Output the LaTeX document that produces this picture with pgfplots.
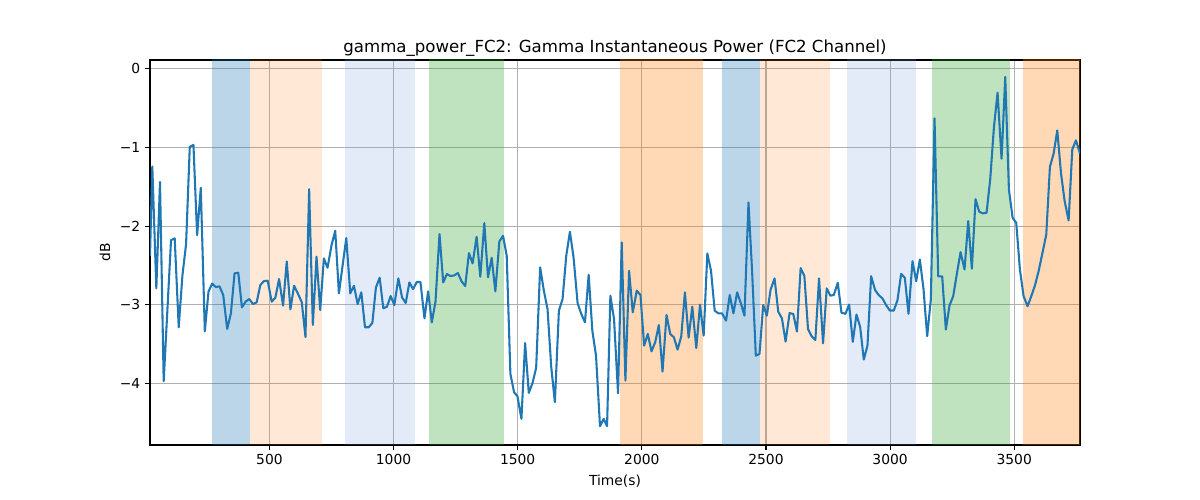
\documentclass[border=0pt]{standalone}
\usepackage{fontspec}
\setmainfont{DejaVu Sans}
\usepackage{pgfplots}
\pgfplotsset{compat=1.18}
\definecolor{tabblue}{RGB}{31,119,180}
\definecolor{taborange}{RGB}{255,127,14}
\definecolor{tabgreen}{RGB}{44,160,44}
\definecolor{lsblue}{RGB}{120,155,220}
\begin{document}
\begin{tikzpicture}
\path (0,0) rectangle (12in,5in);
\begin{axis}[
  at={(1.5in,0.55in)}, anchor=south west,
  scale only axis, width=9.3in, height=3.85in,
  xmin=19, xmax=3765, ymin=-4.78, ymax=0.11,
  xtick={500,1000,1500,2000,2500,3000,3500},
  xticklabels={500,1000,1500,2000,2500,3000,3500},
  ytick={-4,-3,-2,-1,0},
  yticklabels={−4,−3,−2,−1,0},
  tick pos=left, tick align=outside,
  major tick length=3.5pt,
  every tick/.style={black, line width=0.8pt},
  tick label style={font=\fontsize{10}{12}\selectfont},
  grid=major,
  major grid style={color=black!31, line width=0.8pt},
  axis line style={line width=0.8pt},
  title={gamma\_power\_FC2: Gamma Instantaneous Power (FC2 Channel)},
  title style={font=\fontsize{12}{14}\selectfont, yshift=-7pt},
  xlabel={Time(s)}, ylabel={dB},
  label style={font=\fontsize{10}{12}\selectfont},
]
\addplot[forget plot, draw=none, fill=tabblue, fill opacity=0.3] coordinates {(267.5,-10) (422,-10) (422,10) (267.5,10)} -- cycle;
\addplot[forget plot, draw=none, fill=taborange, fill opacity=0.17] coordinates {(422,-10) (712,-10) (712,10) (422,10)} -- cycle;
\addplot[forget plot, draw=none, fill=lsblue, fill opacity=0.2] coordinates {(806,-10) (1087,-10) (1087,10) (806,10)} -- cycle;
\addplot[forget plot, draw=none, fill=tabgreen, fill opacity=0.3] coordinates {(1141,-10) (1446,-10) (1446,10) (1141,10)} -- cycle;
\addplot[forget plot, draw=none, fill=taborange, fill opacity=0.3] coordinates {(1911,-10) (2248,-10) (2248,10) (1911,10)} -- cycle;
\addplot[forget plot, draw=none, fill=tabblue, fill opacity=0.3] coordinates {(2322,-10) (2478,-10) (2478,10) (2322,10)} -- cycle;
\addplot[forget plot, draw=none, fill=taborange, fill opacity=0.17] coordinates {(2478,-10) (2757,-10) (2757,10) (2478,10)} -- cycle;
\addplot[forget plot, draw=none, fill=lsblue, fill opacity=0.2] coordinates {(2826,-10) (3106,-10) (3106,10) (2826,10)} -- cycle;
\addplot[forget plot, draw=none, fill=tabgreen, fill opacity=0.3] coordinates {(3168,-10) (3484,-10) (3484,10) (3168,10)} -- cycle;
\addplot[forget plot, draw=none, fill=taborange, fill opacity=0.3] coordinates {(3535,-10) (3800,-10) (3800,10) (3535,10)} -- cycle;
\addplot[color=tabblue, line width=1.5pt, line join=round] table {
x y
19 -2.38
28.3 -1.243
44.5 -2.79
59.3 -1.438
74.1 -3.97
103.7 -2.178
118.5 -2.156
134.7 -3.285
149.5 -2.63
164.3 -2.228
179.2 -0.994
194 -0.968
208.8 -2.114
223.6 -1.514
239.8 -3.336
254.6 -2.833
269.4 -2.73
284.2 -2.774
299 -2.765
313.9 -2.875
330 -3.306
344.8 -3.108
359.6 -2.6
374.5 -2.592
389.3 -3.032
404.1 -2.96
418.9 -2.926
433.7 -2.99
448.6 -2.968
463.4 -2.748
478.2 -2.698
493 -2.693
509.2 -2.96
524 -2.909
538.8 -2.672
555 -3.01
569.8 -2.448
584.6 -3.057
599.4 -2.757
615.6 -2.863
630.4 -2.968
645.2 -3.408
660 -1.531
674.9 -3.256
689.7 -2.389
704.5 -3.066
719.3 -2.41
734.1 -2.529
750.3 -2.241
765.1 -2.059
779.9 -2.854
794.7 -2.503
809.6 -2.152
825.7 -2.854
840.5 -2.757
855.3 -2.99
870.2 -2.841
885 -3.285
899.8 -3.285
914.6 -3.23
929 -2.78
944 -2.655
958.8 -3.044
973.6 -3.023
988.4 -2.888
1003.2 -3.002
1019.4 -2.664
1034.2 -2.905
1049 -2.977
1063.8 -2.715
1078.7 -2.8
1093.5 -2.71
1108.3 -2.71
1124.5 -3.171
1139.3 -2.829
1154.1 -3.222
1168.9 -2.96
1185.1 -2.101
1200 -2.715
1214.7 -2.609
1229.5 -2.634
1244.3 -2.626
1259.2 -2.596
1274 -2.702
1288.8 -2.761
1303.6 -2.343
1318.4 -2.474
1334.6 -2.135
1349.4 -2.643
1365.6 -1.962
1380.4 -2.651
1395.2 -2.402
1410 -2.829
1426.2 -2.194
1441 -2.123
1455.8 -2.376
1470.6 -3.877
1485.5 -4.11
1499 -4.16
1515.1 -4.448
1529.9 -3.484
1544.7 -4.118
1559.5 -3.996
1574.4 -3.801
1590.5 -2.524
1605.4 -2.82
1620.2 -3.053
1635 -3.784
1649.8 -4.237
1666 -3.074
1680.8 -2.926
1695.6 -2.376
1710.4 -2.072
1725.2 -2.402
1741.4 -2.981
1756.2 -3.116
1771 -3.222
1785.9 -2.617
1800.7 -3.328
1815.5 -3.645
1831.6 -4.541
1846.4 -4.448
1860 -4.541
1873.3 -2.884
1888.1 -3.18
1904.2 -4.123
1919 -2.207
1933.9 -3.962
1948.7 -2.567
1963.5 -3.095
1979.7 -2.82
1994.5 -2.875
2009.3 -3.518
2024.1 -3.37
2039 -3.59
2053.8 -3.476
2068.6 -3.256
2083.4 -3.848
2099.5 -3.129
2114.4 -3.37
2129.2 -3.412
2144 -3.569
2158.8 -3.4
2173.6 -2.841
2188.5 -3.416
2203.3 -3.023
2219.4 -3.548
2234.3 -2.998
2249.1 -3.391
2263.9 -2.347
2278.7 -2.567
2293.5 -3.074
2308.3 -3.108
2323.2 -3.108
2339.3 -3.201
2354.1 -2.875
2369 -3.108
2383.8 -2.841
2398.6 -2.977
2413.4 -3.137
2429.6 -1.7
2444.4 -2.588
2459.2 -3.645
2474 -3.624
2488.9 -3.002
2503.7 -3.137
2518.5 -2.808
2534.7 -2.664
2549.5 -3.087
2564.3 -3.171
2579.1 -3.467
2595.3 -3.104
2610.1 -3.116
2624.9 -3.34
2639.7 -2.533
2654.6 -2.63
2669.4 -3.307
2684.2 -3.4
2699 -3.446
2713.8 -2.664
2730 -3.488
2744.8 -2.791
2759.6 -2.884
2773.2 -2.875
2789.3 -2.72
2804.1 -3.10
2820.2 -3.114
2835 -2.996
2849.8 -3.47
2864.6 -3.123
2879.4 -3.28
2894.1 -3.695
2908.9 -3.517
2923.7 -2.636
2939.8 -2.814
2954.6 -2.877
2969.4 -2.919
2984.2 -3.004
2998.9 -3.072
3015.1 -3.072
3029.8 -2.94
3044.6 -2.606
3059.4 -2.657
3074.2 -3.114
3090.3 -2.445
3105.1 -2.7
3119.9 -2.424
3134.6 -2.797
3149.4 -3.398
3164.2 -2.932
3179 -0.631
3193.8 -2.636
3209.9 -2.64
3224.6 -3.314
3239.4 -3.008
3254.2 -2.89
3269 -2.606
3283.8 -2.33
3299.9 -2.551
3314.7 -1.936
3329.4 -2.542
3344.2 -1.657
3359 -1.818
3373.8 -1.839
3388.6 -1.83
3403.3 -1.407
3418.1 -0.75
3432.9 -0.305
3449 -1.144
3463.8 -0.106
3478.6 -1.534
3493.4 -1.894
3508.1 -1.958
3522.9 -2.551
3537.7 -2.89
3553.8 -3.017
3568.6 -2.89
3583.4 -2.754
3598.2 -2.572
3613 -2.352
3629.1 -2.106
3643.8 -1.246
3658.6 -1.081
3673.4 -0.784
3688.2 -1.322
3703 -1.682
3719.1 -1.928
3733.9 -1.025
3748.6 -0.911
3764.7 -1.076
};
\end{axis}
\end{tikzpicture}
\end{document}
